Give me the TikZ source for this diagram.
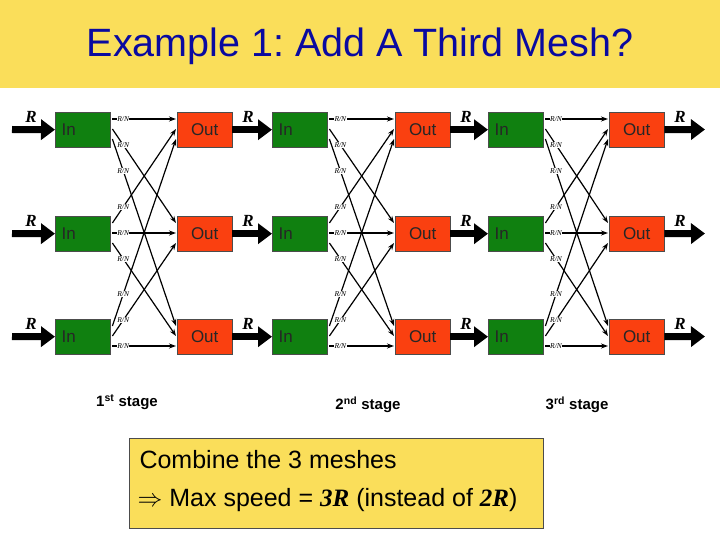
\documentclass[tikz,border=0pt]{standalone}
\usepackage{fontspec}
\setmainfont{Liberation Sans}
\newfontfamily\serifR{Liberation Serif}
\usetikzlibrary{arrows.meta}
\frenchspacing
\definecolor{band}{RGB}{250,222,90}
\definecolor{ttl}{RGB}{10,10,160}
\definecolor{ingreen}{RGB}{16,128,16}
\definecolor{outred}{RGB}{250,64,16}
\tikzset{
  inbox/.style={draw=black!70,fill=ingreen,minimum width=55pt,minimum height=35pt,inner sep=0pt,anchor=north west,font=\fontsize{17}{17}\selectfont,text=black!85,text width=42pt,align=left},
  outbox/.style={draw=black!70,fill=outred,minimum width=55pt,minimum height=35pt,inner sep=0pt,anchor=north west,font=\fontsize{17}{17}\selectfont,text=black!85},
  thick arrow/.style={line width=7pt,-{Triangle[length=14pt,width=20pt]}},
  link/.style={line width=1.2pt,-{Stealth[length=7pt,width=5pt]}},
  rn/.style={fill=white,inner sep=0.4pt,font=\serifR\itshape\fontsize{7.5}{7.5}\selectfont,pos=0.17},
  rlabel/.style={font=\serifR\bfseries\itshape\fontsize{17}{17}\selectfont},
  stagelbl/.style={font=\bfseries\fontsize{15}{15}\selectfont}
}
\begin{document}
\begin{tikzpicture}[x=1pt,y=-1pt]
\useasboundingbox (0,0) rectangle (720,540);
\fill[band] (0,0) rectangle (720,88);
\node[text=ttl,font=\fontsize{39.5}{40}\selectfont] (title) at (360,46) {Example 1: Add A Third Mesh?};
\def\InX{{55,272,488}}
\def\OutX{{177,395,609}}
\def\RowY{{112,216,319}}
\foreach \s in {1,2,3}{
  \foreach \r in {1,2,3}{
    \pgfmathsetmacro{\ix}{\InX[\s-1]}
    \pgfmathsetmacro{\ox}{\OutX[\s-1]}
    \pgfmathsetmacro{\ry}{\RowY[\r-1]}
    \node[inbox] (in\s\r) at (\ix,\ry) {In};
    \node[outbox] (out\s\r) at (\ox,\ry) {Out};
  }
}
% input arrows
\foreach \r in {1,2,3}{
  \pgfmathsetmacro{\ry}{\RowY[\r-1]+17.5}
  \coordinate (src\r) at (12,\ry);
  \coordinate (dst\r) at (705,\ry);
  \draw[thick arrow] (src\r) -- (in1\r.west);
  \node[rlabel] (ra\r) at (31,\ry-13) {R};
  \draw[thick arrow] (out1\r.east) -- (in2\r.west);
  \node[rlabel] (rb\r) at (248,\ry-13) {R};
  \draw[thick arrow] (out2\r.east) -- (in3\r.west);
  \node[rlabel] (rc\r) at (466,\ry-13) {R};
  \draw[thick arrow] (out3\r.east) -- (dst\r);
  \node[rlabel] (rd\r) at (680,\ry-13) {R};
}
% mesh links
\foreach \s in {1,2,3}{
  \foreach \i in {1,2,3}{
    \foreach \j in {1,2,3}{
      \pgfmathsetmacro{\so}{7+10*(\j-1)}
      \pgfmathsetmacro{\eo}{7+10*(\i-1)}
      \draw[link] ([xshift=2pt,yshift=-\so pt]in\s\i.north east) -- node[rn]{R/N} ([xshift=-1pt,yshift=-\eo pt]out\s\j.north west);
    }
  }
}
\node[stagelbl] (st1) at (127,402) {1\textsuperscript{st} stage};
\node[stagelbl] (st2) at (368,405) {2\textsuperscript{nd} stage};
\node[stagelbl] (st3) at (577,405) {3\textsuperscript{rd} stage};
\node[draw=black!70,fill=band,minimum width=414pt,minimum height=90pt,anchor=north west,inner sep=0pt] (box) at (129,438) {};
\node[anchor=west,font=\fontsize{25}{25}\selectfont] (l1) at (136,460) {Combine the 3 meshes};
\node[anchor=west,font=\fontsize{25}{25}\selectfont] (l2) at (134,500) {$\Rightarrow$ Max speed = {\serifR\bfseries\itshape 3R} (instead of {\serifR\bfseries\itshape 2R})};
\end{tikzpicture}
\end{document}
